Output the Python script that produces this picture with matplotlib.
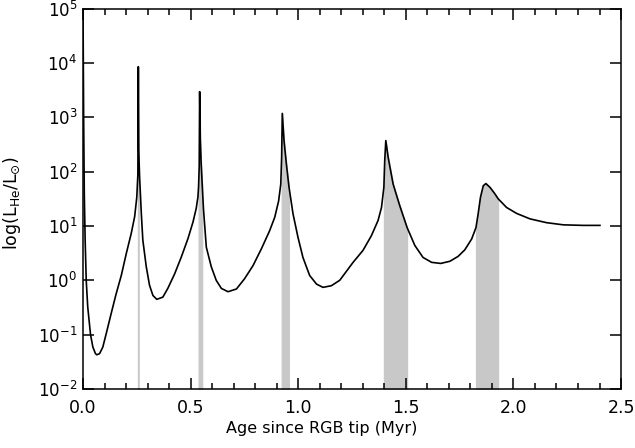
import numpy as np
import matplotlib
matplotlib.use("Agg")
import matplotlib.pyplot as plt
from matplotlib.ticker import MultipleLocator, LogLocator, NullLocator

plt.rcParams['font.family'] = ['DejaVu Sans']
plt.rcParams['mathtext.fontset'] = 'dejavusans'

# edad desde la punta de la RGB (Myr) y log10(L_He/L_sun)
age = [0.000, 0.003, 0.006, 0.010, 0.015, 0.022, 0.035, 0.046, 0.058, 0.064,
       0.077, 0.092, 0.108, 0.131, 0.154, 0.178, 0.201, 0.224, 0.240, 0.250,
       0.255, 0.257, 0.259, 0.263, 0.271, 0.278, 0.294, 0.309, 0.325, 0.343,
       0.371, 0.394, 0.426, 0.457, 0.488, 0.511, 0.526, 0.534, 0.537, 0.540,
       0.542, 0.545, 0.549, 0.554, 0.560, 0.573, 0.596, 0.619, 0.643, 0.674,
       0.713, 0.751, 0.790, 0.829, 0.867, 0.891, 0.909, 0.919, 0.923, 0.926,
       0.934, 0.945, 0.957, 0.976, 0.999, 1.022, 1.053, 1.085, 1.115, 1.154,
       1.193, 1.255, 1.301, 1.340, 1.371, 1.387, 1.398, 1.402, 1.407, 1.418,
       1.441, 1.472, 1.506, 1.542, 1.580, 1.620, 1.662, 1.705, 1.743, 1.774,
       1.806, 1.826, 1.836, 1.847, 1.860, 1.872, 1.891, 1.914, 1.929, 1.968,
       2.015, 2.077, 2.154, 2.232, 2.325, 2.402]
log_lhe = [5.00, 3.00, 1.60, 0.74, 0.00, -0.49, -1.00, -1.23, -1.35, -1.37,
           -1.35, -1.23, -0.98, -0.61, -0.25, 0.09, 0.49, 0.86, 1.17, 1.53,
           1.95, 3.93, 2.40, 1.90, 1.23, 0.74, 0.25, -0.09, -0.28, -0.35,
           -0.31, -0.15, 0.12, 0.43, 0.77, 1.07, 1.32, 1.53, 1.72, 2.10,
           3.47, 2.60, 2.15, 1.75, 1.30, 0.61, 0.25, 0.00, -0.15, -0.21,
           -0.16, 0.03, 0.27, 0.58, 0.91, 1.16, 1.46, 1.77, 2.26, 3.07,
           2.57, 2.14, 1.72, 1.22, 0.79, 0.42, 0.09, -0.07, -0.13, -0.10,
           0.00, 0.33, 0.55, 0.82, 1.10, 1.34, 1.71, 2.20, 2.57, 2.26,
           1.77, 1.37, 0.97, 0.64, 0.42, 0.33, 0.31, 0.35, 0.44, 0.56,
           0.76, 0.97, 1.22, 1.53, 1.74, 1.78, 1.71, 1.59, 1.50, 1.34,
           1.23, 1.13, 1.06, 1.02, 1.01, 1.01]

# intervalos sombreados (Myr)
bands = [(0.255, 0.259), (0.537, 0.554), (0.923, 0.957), (1.398, 1.506), (1.826, 1.929)]

age = np.array(age)
lhe = 10.0 ** np.array(log_lhe)

fig = plt.figure(figsize=(6.35, 4.48), dpi=100)
ax = fig.add_axes([0.1307, 0.1317, 0.8473, 0.8493])

for lo, hi in bands:
    m = (age >= lo - 1e-9) & (age <= hi + 1e-9)
    ax.fill_between(age[m], 1e-2, lhe[m], color='#c8c8c8', lw=0.8, edgecolor='#c8c8c8')

ax.plot(age, lhe, color='black', lw=1.2, solid_joinstyle='round')

ax.set_yscale('log')
ax.set_xlim(0, 2.5)
ax.set_ylim(1e-2, 1e5)
ax.xaxis.set_major_locator(MultipleLocator(0.5))
ax.xaxis.set_minor_locator(MultipleLocator(0.1))
ax.yaxis.set_major_locator(LogLocator(base=10, numticks=10))
ax.yaxis.set_minor_locator(NullLocator())
ax.xaxis.set_major_formatter(plt.FormatStrFormatter('%.1f'))

ax.tick_params(which='both', direction='in', top=True, right=True, width=1.1)
ax.tick_params(which='major', length=8)
ax.tick_params(which='minor', length=4)
ax.tick_params(axis='x', labelsize=12.5, pad=7)
ax.tick_params(axis='y', labelsize=12, pad=4)
for s in ax.spines.values():
    s.set_linewidth(1.1)

ax.set_xlabel('Age since RGB tip (Myr)', fontsize=11.5)
ax.xaxis.set_label_coords(0.444, -0.085)
ax.set_ylabel(r'log(L$_{\rm He}$/L$_{\odot}$)', fontsize=12.5)
ax.yaxis.set_label_coords(-0.112, 0.49)

fig.savefig('out.png', dpi=100)
